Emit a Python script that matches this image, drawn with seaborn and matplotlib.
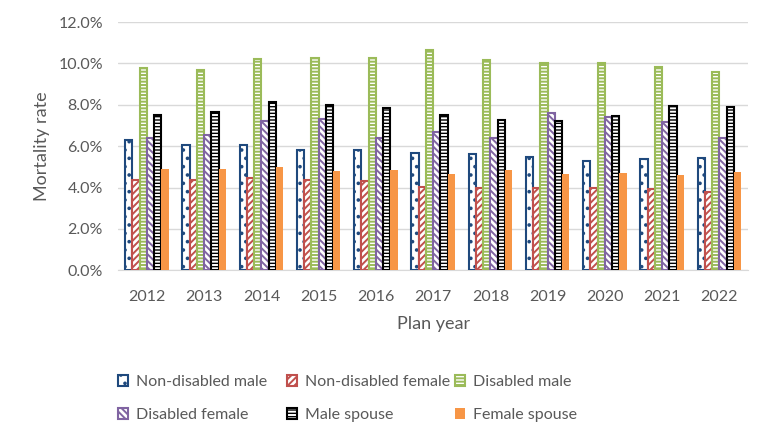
import pandas as pd
import seaborn as sns
import matplotlib.pyplot as plt
from matplotlib.ticker import PercentFormatter

years = ['2012', '2013', '2014', '2015', '2016', '2017', '2018', '2019', '2020', '2021', '2022']
series = ['Non-disabled male', 'Non-disabled female', 'Disabled male',
          'Disabled female', 'Male spouse', 'Female spouse']

non_disabled_male = [6.3, 6.05, 6.05, 5.8, 5.8, 5.65, 5.6, 5.5, 5.3, 5.4, 5.45]
non_disabled_female = [4.35, 4.35, 4.45, 4.35, 4.3, 4.05, 4.0, 4.0, 4.0, 3.95, 3.8]
disabled_male = [9.8, 9.7, 10.2, 10.25, 10.25, 10.65, 10.15, 10.0, 10.0, 9.85, 9.6]
disabled_female = [6.4, 6.55, 7.2, 7.3, 6.4, 6.7, 6.4, 7.6, 7.4, 7.15, 6.4]
male_spouse = [7.5, 7.65, 8.15, 8.0, 7.85, 7.5, 7.25, 7.2, 7.45, 7.95, 7.9]
female_spouse = [4.88, 4.9, 5.0, 4.8, 4.85, 4.65, 4.85, 4.65, 4.7, 4.6, 4.75]

values = [non_disabled_male, non_disabled_female, disabled_male,
          disabled_female, male_spouse, female_spouse]

# long format for seaborn (rates as fractions)
rows = []
for name, vals in zip(series, values):
    for yr, v in zip(years, vals):
        rows.append({'year': yr, 'series': name, 'rate': v / 100})
df = pd.DataFrame(rows)

sns.set_style('white')
plt.rcParams['font.family'] = ['Lato', 'DejaVu Sans']
plt.rcParams['hatch.linewidth'] = 1.4

grey = '#595959'
edge_colors = ['#1F497D', '#C0504D', '#9BBB59', '#8064A2', '#000000', '#F79646']
face_colors = ['white', 'white', 'white', 'white', 'black', '#F79646']
hatches = ['..', '/////', '-----', '\\\\\\\\\\', '-----', None]

fig = plt.figure(figsize=(7.68, 4.43), dpi=100)
ax = fig.add_axes([0.154, 0.39, 0.82, 0.56])

sns.barplot(data=df, x='year', y='rate', hue='series', hue_order=series,
            palette=edge_colors, width=0.76, errorbar=None, ax=ax, zorder=3)

for i, cont in enumerate(ax.containers):
    for p in cont.patches:
        p.set_facecolor(face_colors[i])
        p.set_edgecolor(edge_colors[i])
        p.set_linewidth(1.5 if i < 5 else 0)
        if hatches[i]:
            p.set_hatch(hatches[i])
        if i == 4:
            # white hatch on the black male spouse bars
            p._hatch_color = (1, 1, 1, 1)

ax.set_ylim(0, 0.12)
ax.set_yticks([0, 0.02, 0.04, 0.06, 0.08, 0.10, 0.12])
ax.yaxis.set_major_formatter(PercentFormatter(1.0, decimals=1))
ax.grid(axis='y', color='#D9D9D9', linewidth=1, zorder=0)
ax.set_axisbelow(True)
sns.despine(ax=ax, left=True, top=True, right=True)
ax.spines['bottom'].set_color('#D9D9D9')
ax.tick_params(axis='both', length=0, labelsize=11.5, labelcolor=grey)
ax.tick_params(axis='y', pad=11)
ax.tick_params(axis='x', pad=14)
ax.set_xlabel('Plan year', fontsize=13, color=grey, labelpad=9)
ax.set_ylabel('Mortality rate', fontsize=13, color=grey, labelpad=6)
ax.legend_.remove()

# legend entries laid out on an even grid, like the original
handles = list(ax.containers)
col_x = [118 / 768, 287 / 768, 455 / 768]
row_y = [1 - 382 / 443, 1 - 415 / 443]
for k in range(6):
    fig.legend([handles[k]], [series[k]], loc='center left',
               bbox_to_anchor=(col_x[k % 3], row_y[k // 3]),
               frameon=False, fontsize=11.5, labelcolor=grey,
               handlelength=0.65, handleheight=0.65, handletextpad=0.5,
               borderpad=0, borderaxespad=0)

fig.savefig('out.png', dpi=100)
